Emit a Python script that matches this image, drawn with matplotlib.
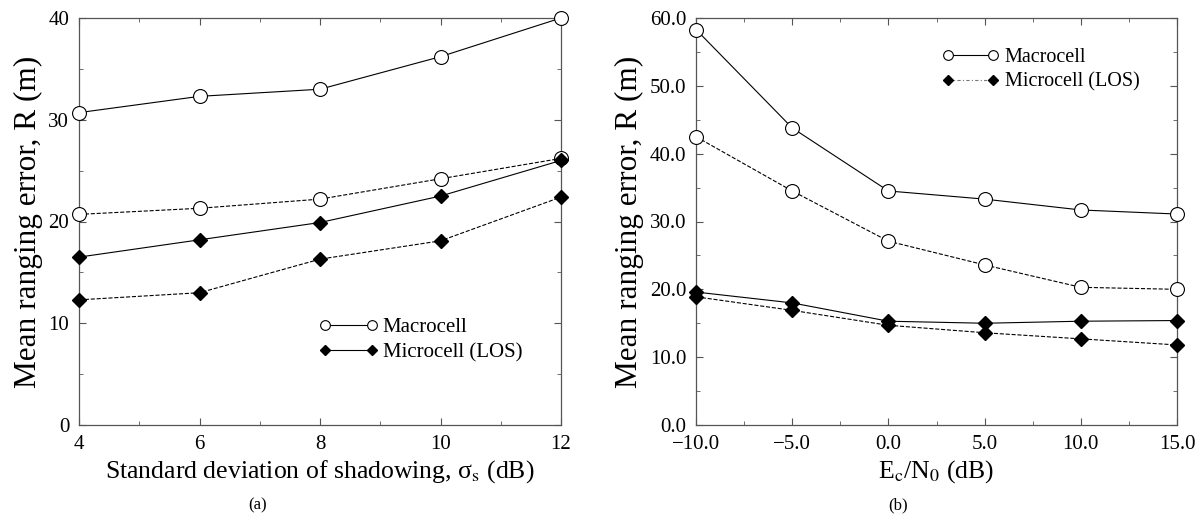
import matplotlib
matplotlib.use("Agg")
import matplotlib.pyplot as plt
from matplotlib.lines import Line2D
from matplotlib.ticker import MultipleLocator, FuncFormatter

plt.rcParams['font.family'] = ['Liberation Serif', 'DejaVu Serif']
plt.rcParams['mathtext.fontset'] = 'stix'

# panel (a): standard deviation of shadowing
sigma = [4, 6, 8, 10, 12]
macro_a_solid = [30.7, 32.3, 33.0, 36.2, 40.0]
macro_a_dash = [20.7, 21.3, 22.2, 24.2, 26.2]
micro_a_solid = [16.5, 18.2, 19.9, 22.5, 26.0]
micro_a_dash = [12.3, 13.0, 16.3, 18.1, 22.4]

# panel (b): Ec/N0
ecn0 = [-10, -5, 0, 5, 10, 15]
macro_b_solid = [58.3, 43.8, 34.5, 33.3, 31.7, 31.1]
macro_b_dash = [42.5, 34.5, 27.1, 23.6, 20.3, 20.0]
micro_b_solid = [19.6, 18.0, 15.3, 15.0, 15.3, 15.4]
micro_b_dash = [18.9, 16.9, 14.7, 13.6, 12.7, 11.8]

circ = dict(marker='o', markersize=10, markerfacecolor='white',
            markeredgecolor='black', markeredgewidth=0.8, color='black', lw=0.8)
diam = dict(marker='D', markersize=7.5, markerfacecolor='black',
            markeredgecolor='black', color='black', lw=0.8)

one_dec = FuncFormatter(lambda v, p: ('%.1f' % v).replace('-', '\u2212'))

fig = plt.figure(figsize=(12.02, 5.23), dpi=100)
axa = fig.add_axes([79/1202, 1-425/523, (561-79)/1202, (425-18)/523])
axb = fig.add_axes([696/1202, 1-425/523, (1177-696)/1202, (425-18)/523])

for ax in (axa, axb):
    for s in ax.spines.values():
        s.set_color('#555555')
        s.set_linewidth(0.9)
    ax.tick_params(which='both', direction='in', top=True, right=True,
                   labelsize=15, color='#555555', pad=7)
    ax.tick_params(which='major', length=5)
    ax.tick_params(which='minor', length=3)

# (a)
axa.plot(sigma, macro_a_solid, ls='-', **circ, clip_on=False, zorder=3)
axa.plot(sigma, macro_a_dash, ls='--', **circ, clip_on=False, zorder=3)
axa.plot(sigma, micro_a_solid, ls='-', **diam, clip_on=False, zorder=3)
axa.plot(sigma, micro_a_dash, ls='--', **diam, clip_on=False, zorder=3)
axa.set_xlim(4, 12)
axa.set_ylim(0, 40)
axa.xaxis.set_major_locator(MultipleLocator(2))
axa.xaxis.set_minor_locator(MultipleLocator(1))
axa.yaxis.set_major_locator(MultipleLocator(10))
axa.yaxis.set_minor_locator(MultipleLocator(5))
axa.set_xlabel('Standard deviation of shadowing, \u03c3$_{\\rm s}$ (dB)', fontsize=18.5, labelpad=3)
axa.set_ylabel('Mean ranging error, R (m)', fontsize=22.5, labelpad=4)

ha = [Line2D([], [], ls='-', **circ), Line2D([], [], ls='-', **diam)]
axa.legend(ha, ['Macrocell', 'Microcell (LOS)'], loc='center left',
           bbox_to_anchor=(0.498, 0.209), frameon=False, fontsize=15,
           handlelength=2.86, numpoints=2, handletextpad=0.2, labelspacing=0.3,
           borderaxespad=0, borderpad=0, markerscale=0.7)
fig.text(258/1202, 1-505/523, '(a)', ha='center', va='center', fontsize=12)

# (b)
axb.plot(ecn0, macro_b_solid, ls='-', **circ, clip_on=False, zorder=3)
axb.plot(ecn0, macro_b_dash, ls='--', **circ, clip_on=False, zorder=3)
axb.plot(ecn0, micro_b_solid, ls='-', **diam, clip_on=False, zorder=3)
axb.plot(ecn0, micro_b_dash, ls='--', **diam, clip_on=False, zorder=3)
axb.set_xlim(-10, 15)
axb.set_ylim(0, 60)
axb.xaxis.set_major_locator(MultipleLocator(5))
axb.xaxis.set_minor_locator(MultipleLocator(2.5))
axb.yaxis.set_major_locator(MultipleLocator(10))
axb.yaxis.set_minor_locator(MultipleLocator(5))
axb.xaxis.set_major_formatter(one_dec)
axb.yaxis.set_major_formatter(one_dec)
axb.set_xlabel('E$_{\\rm c}$/N$_0$ (dB)', fontsize=18.5, labelpad=3)
axb.set_ylabel('Mean ranging error, R (m)', fontsize=22.5, labelpad=4)

hb = [Line2D([], [], ls='-', **circ),
      Line2D([], [], ls=(0, (3, 2, 1, 2)), **{**diam, 'color': '#777777'})]
axb.legend(hb, ['Macrocell', 'Microcell (LOS)'], loc='center left',
           bbox_to_anchor=(0.511, 0.873), frameon=False, fontsize=14.5,
           handlelength=2.83, numpoints=2, handletextpad=0.3, labelspacing=0.3,
           borderaxespad=0, borderpad=0, markerscale=0.7)
fig.text(898/1202, 1-505/523, '(b)', ha='center', va='center', fontsize=12)

fig.savefig('out.png', dpi=100)
